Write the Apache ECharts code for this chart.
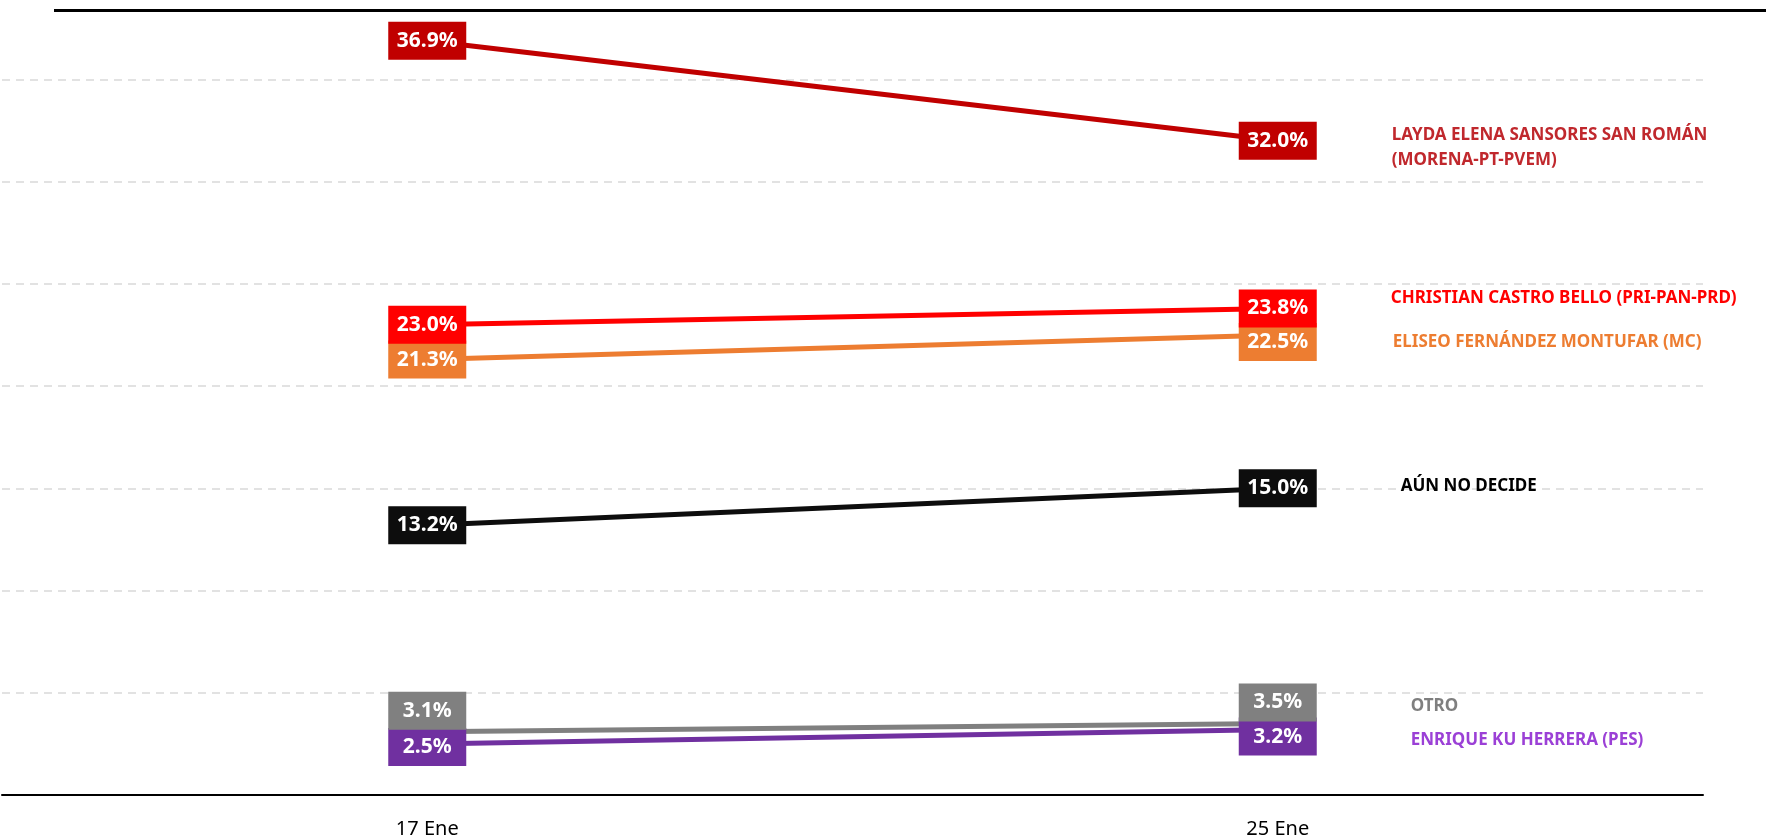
<!DOCTYPE html>
<html>
<head>
<meta charset="utf-8">
<script src="https://cdn.jsdelivr.net/npm/echarts@6/dist/echarts.min.js"></script>
<style>
html, body { margin: 0; padding: 0; background: #fff; }
#chart { width: 1766px; height: 839px; }
</style>
</head>
<body>
<div id="chart"></div>
<script>
// fechas de levantamiento
var categories = ['17 Ene', '25 Ene'];

// intención de voto (%)
var layda     = [36.9, 32.0];
var christian = [23.0, 23.8];
var eliseo    = [21.3, 22.5];
var aun       = [13.2, 15.0];
var otro      = [3.1, 3.5];
var enrique   = [2.5, 3.2];

// nombres que se muestran a la derecha
var names = {
	layda     : 'LAYDA ELENA SANSORES SAN ROMÁN\n(MORENA-PT-PVEM)',
	christian : 'CHRISTIAN CASTRO BELLO (PRI-PAN-PRD)',
	eliseo    : 'ELISEO FERNÁNDEZ MONTUFAR (MC)',
	aun       : 'AÚN NO DECIDE',
	otro      : 'OTRO',
	enrique   : 'ENRIQUE KU HERRERA (PES)'
};

var FONT = '"Noto Sans", sans-serif';

/**
 * arma una serie de línea con etiquetas en caja
 */
function buildSeries(key, values, color, textColor, labelOffsets, endOffset) {
	var data = [];
	for (var i = 0; i < values.length; i++) {
		data.push({
			value : values[i],
			label : { offset : labelOffsets[i] }
		});
	}
	return {
		name       : key,
		type       : 'line',
		data       : data,
		symbol     : 'circle',
		symbolSize : 0,
		showSymbol : true,
		silent     : true,
		lineStyle  : { color : color, width : 5 },
		itemStyle  : { color : color },
		label : {
			show            : true,
			position        : 'inside',
			formatter       : function(p) { return p.value.toFixed(1) + '%'; },
			color           : '#fff',
			fontFamily      : FONT,
			fontWeight      : 'bold',
			fontSize        : 21,
			lineHeight      : 20,
			backgroundColor : color,
			padding         : [9, 9, 9, 9],
			width           : 60,
			align           : 'center'
		},
		endLabel : {
			show       : true,
			formatter  : function() { return names[key]; },
			color      : textColor,
			fontFamily : FONT,
			fontWeight : 'bold',
			fontSize   : 17,
			lineHeight : 25,
			distance   : 0,
			offset     : endOffset
		}
	};
}

var chart = echarts.init(document.getElementById('chart'));

var option = {
	animation : false,
	backgroundColor : '#fff',
	grid : { left : 2, right : 63, top : 10, bottom : 38 },
	xAxis : {
		type : 'category',
		data : categories,
		axisLine  : { lineStyle : { color : '#000', width : 2 } },
		axisTick  : { show : false },
		axisLabel : { color : '#000', fontFamily : FONT, fontSize : 20, margin : 24 }
	},
	yAxis : {
		type     : 'value',
		min      : 0,
		max      : 38.4,
		interval : 5,
		axisLine  : { show : false },
		axisTick  : { show : false },
		axisLabel : { show : false },
		splitLine : {
			showMaxLine : false,
			lineStyle : { color : '#d9d9d9', width : 1.5, type : [8, 6] }
		}
	},
	graphic : [{
		type  : 'line',
		z     : 100,
		shape : { x1 : 54, y1 : 10.5, x2 : 1766, y2 : 10.5 },
		style : { stroke : '#000', lineWidth : 3 }
	}],
	series : [
		buildSeries('layda',     layda,     '#c00000', '#c0282d', [[0, 0], [0, 0]],   [114, 7]),
		buildSeries('eliseo',    eliseo,    '#ed7d31', '#ed7d31', [[0, 0], [0, 7]],   [115, 7]),
		buildSeries('christian', christian, '#ff0000', '#ff0000', [[0, 0], [0, 0]],   [113, -10]),
		buildSeries('aun',       aun,       '#0d0d0d', '#000000', [[0, 0], [0, 0]],   [123, -2]),
		buildSeries('enrique',   enrique,   '#7030a0', '#9b40d6', [[0, 3], [0, 7]],   [133, 11]),
		buildSeries('otro',      otro,      '#808080', '#7f7f7f', [[0, -21], [0, -21]], [133, -17])
	]
};

chart.setOption(option);
</script>
</body>
</html>
